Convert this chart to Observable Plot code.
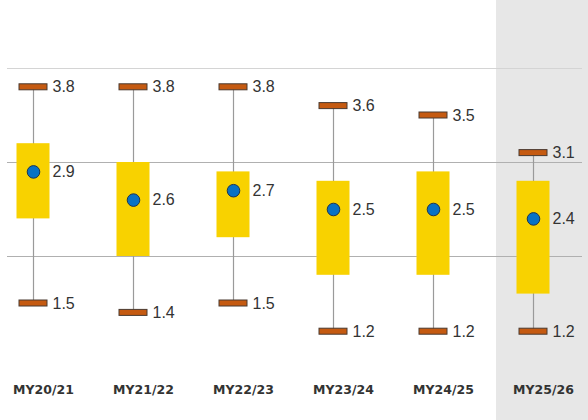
<!DOCTYPE html>
<html>
<head>
<meta charset="utf-8">
<script src="https://cdn.jsdelivr.net/npm/d3@7"></script>
<script src="https://cdn.jsdelivr.net/npm/@observablehq/plot@0.6"></script>
<style>
  html, body { margin: 0; padding: 0; background: #fff; }
  #chart svg { display: block; }
</style>
</head>
<body>
<div id="chart"></div>
<script>
const categories = ["MY20/21", "MY21/22", "MY22/23", "MY23/24", "MY24/25", "MY25/26"];
const minValues  = [1.5, 1.4, 1.5, 1.2, 1.2, 1.2];
const maxValues  = [3.8, 3.8, 3.8, 3.6, 3.5, 3.1];
const lowValues  = [2.4, 2.0, 2.2, 1.8, 1.8, 1.6];
const highValues = [3.2, 3.0, 2.9, 2.8, 2.9, 2.8];
const meanValues = [2.9, 2.6, 2.7, 2.5, 2.5, 2.4];
const gridValues = [2, 3, 4];
const highlighted = ["MY25/26"];

const rows = categories.map((c, i) => ({
  cat: c, min: minValues[i], max: maxValues[i],
  low: lowValues[i], high: highValues[i], mean: meanValues[i]
}));

const labelFont = "Liberation Sans, Arial, sans-serif";

const chart = Plot.plot({
  width: 588,
  height: 420,
  marginTop: 21,
  marginBottom: 70,
  marginLeft: 7,
  marginRight: 6,
  style: { background: "#fff", fontFamily: labelFont },
  x: { domain: categories, range: [-17.5, 582.5], padding: 0, label: null },
  y: { domain: [1, 4.5], axis: null },
  marks: [
    Plot.barY(highlighted, {
      x: d => d, y1: 1, y2: 4.5, fill: "#e7e7e7",
      insetLeft: 13, insetRight: -6, insetTop: -21, insetBottom: -70
    }),
    Plot.ruleY(gridValues, {
      y: d => d,
      stroke: d => d === 4 ? "#d4d4d4" : "#b0b0b0",
      strokeWidth: 1
    }),
    Plot.ruleX(rows, { x: "cat", y1: "min", y2: "max", stroke: "#9a9a9a", strokeWidth: 1.2 }),
    Plot.barY(rows, { x: "cat", y1: "low", y2: "high", fill: "#f8d200", insetLeft: 33.5, insetRight: 33.5 }),
    Plot.barY(rows, { x: "cat", y1: "max", y2: "max", fill: "#c55a11", stroke: "#4a3a30", strokeWidth: 1,
      insetLeft: 36, insetRight: 36, insetTop: -3, insetBottom: -3 }),
    Plot.barY(rows, { x: "cat", y1: "min", y2: "min", fill: "#c55a11", stroke: "#4a3a30", strokeWidth: 1,
      insetLeft: 36, insetRight: 36, insetTop: -3, insetBottom: -3 }),
    Plot.dot(rows, { x: "cat", y: "mean", r: 6.3, fill: "#0872c4", stroke: "#1d3550", strokeWidth: 1 }),
    Plot.text(rows, { x: "cat", y: "max", text: d => d.max.toFixed(1), dx: 19, textAnchor: "start",
      fontSize: 16, fill: "#333", fontFamily: labelFont }),
    Plot.text(rows, { x: "cat", y: "min", text: d => d.min.toFixed(1), dx: 19, textAnchor: "start",
      fontSize: 16, fill: "#333", fontFamily: labelFont }),
    Plot.text(rows, { x: "cat", y: "mean", text: d => d.mean.toFixed(1), dx: 19, textAnchor: "start",
      fontSize: 16, fill: "#333", fontFamily: labelFont }),
    Plot.axisX({ tickSize: 0, tickPadding: 35, dx: 10, fontSize: 12.5, fontWeight: "bold", fill: "#333", label: null,
      fontFamily: "DejaVu Sans, sans-serif" })
  ]
});
document.getElementById("chart").appendChild(chart);
</script>
</body>
</html>
